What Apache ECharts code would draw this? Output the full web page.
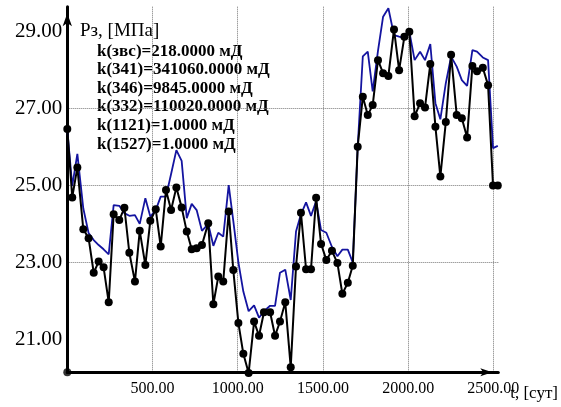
<!DOCTYPE html>
<html>
<head>
<meta charset="utf-8">
<script src="https://cdn.jsdelivr.net/npm/echarts@6/dist/echarts.min.js"></script>
<style>
  html, body { margin: 0; padding: 0; background: #fff; }
  #chart { width: 561px; height: 407px; }
</style>
</head>
<body>
<div id="chart"></div>
<script>
// time, days
var days = [0, 29, 59, 94, 125, 155, 184, 213, 243, 272, 305, 335, 364, 397, 425, 458, 487, 519, 548, 579,
  609, 640, 671, 701, 730, 759, 790, 827, 857, 886, 915, 947, 974, 1004, 1033, 1064, 1096, 1125, 1154, 1190,
  1219, 1248, 1279, 1311, 1342, 1371, 1401, 1430, 1460, 1489, 1520, 1553, 1585, 1614, 1646, 1675, 1704, 1734, 1763, 1792,
  1823, 1853, 1884, 1917, 1947, 1978, 2007, 2038, 2070, 2099, 2130, 2160, 2189, 2221, 2252, 2285, 2315, 2346, 2377, 2404,
  2438, 2469, 2498, 2526];
// black line with points
var pressPoints = [26.47, 24.69, 25.47, 23.86, 23.63, 22.73, 23.02, 22.87, 21.96, 24.25, 24.10, 24.42, 23.25, 22.50, 23.82, 22.93, 24.08, 24.38, 23.41, 24.88,
  24.36, 24.95, 24.43, 23.80, 23.34, 23.37, 23.45, 24.02, 21.91, 22.63, 22.50, 24.32, 22.80, 21.42, 20.62, 20.12, 21.46, 21.09, 21.70, 21.70,
  21.09, 21.46, 21.96, 20.27, 22.89, 24.29, 22.82, 22.82, 24.68, 23.48, 23.06, 23.30, 22.98, 22.18, 22.47, 22.91, 26.01, 27.31, 26.83, 27.09,
  28.26, 27.92, 27.85, 29.06, 28.00, 28.87, 29.00, 26.80, 27.14, 27.03, 28.16, 26.53, 25.23, 26.65, 28.40, 26.83, 26.75, 26.25, 28.11, 27.97,
  28.06, 27.61, 25.00, 25.00];
// blue line
var pressLine = [26.45, 24.99, 25.82, 24.40, 23.76, 23.58, 23.45, 23.34, 23.21, 24.49, 24.47, 24.28, 24.21, 24.23, 24.00, 24.67, 24.19, 24.36, 24.71, 24.71,
  25.30, 25.92, 25.64, 24.15, 24.52, 24.36, 23.82, 24.00, 23.43, 23.77, 23.67, 25.01, 24.08, 23.00, 22.24, 21.73, 21.88, 21.56, 21.73, 21.87,
  21.87, 22.73, 22.81, 22.02, 23.80, 24.25, 24.56, 24.21, 24.59, 23.84, 23.77, 23.40, 23.16, 23.33, 23.33, 23.00, 26.00, 28.36, 28.48, 27.45,
  28.50, 29.39, 29.61, 28.91, 28.87, 28.83, 29.00, 28.26, 28.48, 28.26, 28.68, 27.14, 26.72, 27.66, 28.35, 28.09, 27.74, 27.59, 28.52, 28.48,
  28.33, 28.26, 25.97, 26.03];

var xTicks = [500, 1000, 1500, 2000, 2500];
var yTicks = [21, 23, 25, 27, 29];
var kLines = [
  'k(звс)=218.0000 мД',
  'k(341)=341060.0000 мД',
  'k(346)=9845.0000 мД',
  'k(332)=110020.0000 мД',
  'k(1121)=1.0000 мД',
  'k(1527)=1.0000 мД'
];
var yName = 'Рз, [МПа]';
var xName = 't, [сут]';

var X_MIN = 0, X_MAX = 2529, X_STEP = 500;
var Y_MIN = 20.14, Y_MAX = 29.65;
var FONT = '"Liberation Serif", "Times New Roman", serif';
var gridLine = { type: 'dotted', color: '#777', width: 1 };

var chart = echarts.init(document.getElementById('chart'));

chart.setOption({
  animation: false,
  backgroundColor: '#fff',
  grid: { left: 67.3, right: 62.7, top: 6.7, bottom: 34.7 },
  xAxis: {
    type: 'value',
    min: X_MIN,
    max: X_MAX,
    interval: X_STEP,
    splitLine: { show: true, showMinLine: false, showMaxLine: false, lineStyle: gridLine },
    axisTick: { show: false },
    axisLine: {
      onZero: false,
      lineStyle: { color: '#000', width: 3 },
      symbol: ['none', 'arrow'],
      symbolSize: [6, 12],
      symbolOffset: [0, -6]
    },
    axisLabel: {
      customValues: xTicks,
      formatter: function (v) { return v.toFixed(2); },
      fontFamily: FONT,
      fontSize: 16,
      color: '#000',
      margin: 8
    }
  },
  yAxis: {
    type: 'value',
    min: Y_MIN,
    max: Y_MAX,
    // split lines follow the tick custom values
    splitLine: { show: true, showMinLine: false, showMaxLine: false, lineStyle: gridLine },
    axisTick: { show: false, customValues: yTicks },
    axisLine: {
      show: true,
      onZero: false,
      lineStyle: { color: '#000', width: 3 },
      symbol: ['none', 'arrow'],
      symbolSize: [7, 13],
      symbolOffset: [0, -6.5]
    },
    axisLabel: {
      customValues: yTicks,
      formatter: function (v) { return v.toFixed(2); },
      fontFamily: FONT,
      fontSize: 21,
      color: '#000',
      margin: 5
    }
  },
  graphic: [
    { type: 'text', left: 80, top: 22, style: { text: yName, font: '19px ' + FONT, fill: '#000' } },
    { type: 'text', left: 97, top: 42, style: { text: kLines.join('\n'), font: 'bold 17px ' + FONT, lineHeight: 18.6, fill: '#000' } },
    { type: 'text', right: 3, top: 385, style: { text: xName, font: '17px ' + FONT, fill: '#000' } }
  ],
  series: [
    {
      type: 'line',
      data: days.map(function (t, i) { return [t, pressLine[i]]; }),
      showSymbol: false,
      clip: false,
      z: 3,
      lineStyle: { color: '#1414a0', width: 1.8 }
    },
    {
      type: 'line',
      data: days.map(function (t, i) { return [t, pressPoints[i]]; }),
      symbol: 'circle',
      symbolSize: 8,
      clip: false,
      z: 4,
      itemStyle: { color: '#000' },
      lineStyle: { color: '#000', width: 2 }
    },
    {
      // origin dot
      type: 'scatter',
      data: [[X_MIN, Y_MIN]],
      symbolSize: 8,
      clip: false,
      z: 5,
      itemStyle: { color: '#000' }
    }
  ]
});
</script>
</body>
</html>
